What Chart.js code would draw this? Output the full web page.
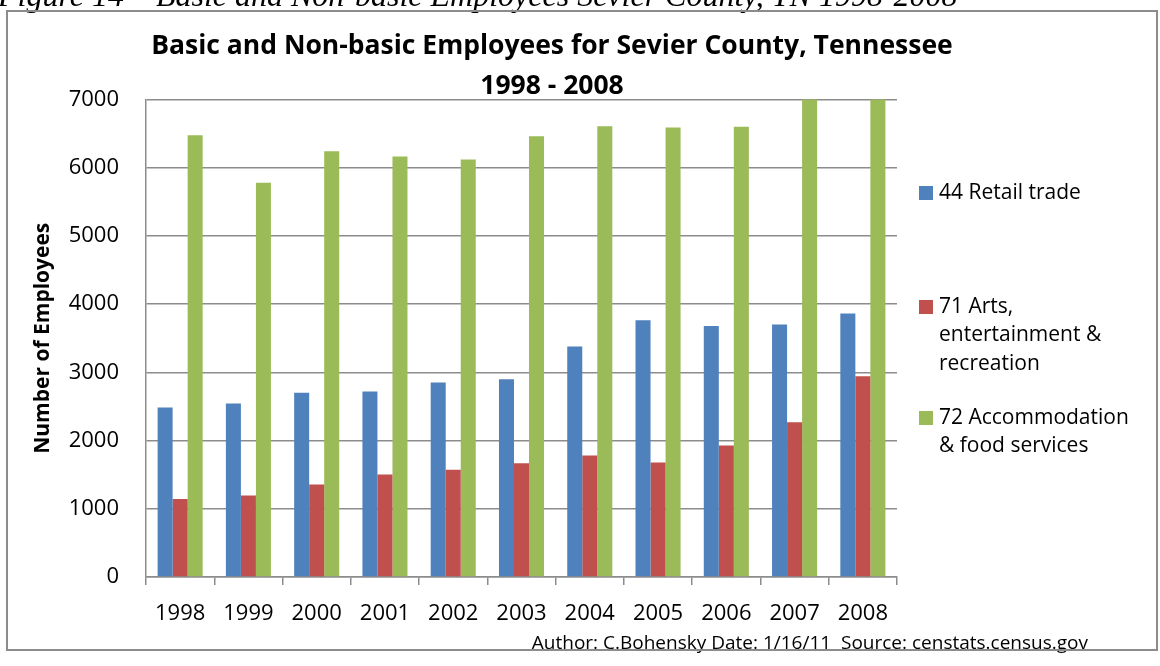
<!DOCTYPE html>
<html>
<head>
<meta charset="utf-8">
<title>Basic and Non-basic Employees for Sevier County</title>
<script src="https://cdn.jsdelivr.net/npm/chart.js@4.4.1/dist/chart.umd.min.js"></script>
<style>
  html, body { margin: 0; padding: 0; background: #fff; }
  canvas { display: block; }
</style>
</head>
<body>
<canvas id="grafico" width="1160" height="666"></canvas>
<script>
const anos = ["1998", "1999", "2000", "2001", "2002", "2003", "2004", "2005", "2006", "2007", "2008"];

const varejo = [2485, 2543, 2700, 2719, 2851, 2899, 3378, 3763, 3680, 3700, 3861];
const artes = [1142, 1196, 1357, 1504, 1571, 1669, 1782, 1679, 1928, 2270, 2943];
const hospedagem = [6477, 5780, 6243, 6165, 6121, 6462, 6609, 6590, 6600, 7050, 7150];

const nomesSeries = [
  "44 Retail trade",
  "71 Arts, entertainment & recreation",
  "72 Accommodation & food services"
];
// legenda quebrada em linhas como no original
const linhasLegenda = [
  ["44 Retail trade"],
  ["71 Arts,", "entertainment &", "recreation"],
  ["72 Accommodation", "& food services"]
];
const cores = ["#4F81BD", "#C0504D", "#9BBB59"];

const legenda = "Figure 14 – Basic and Non-basic Employees Sevier County, TN 1998-2008";
const autoria = "Author: C.Bohensky Date: 1/16/11  Source: censtats.census.gov";

const cinza = "#8c8c8c";

// fundo, moldura, legenda e textos extras
const extras = {
  id: "extras",
  beforeDraw(chart) {
    const c = chart.ctx;
    c.save();
    c.fillStyle = "#fff";
    c.fillRect(0, 0, chart.width, chart.height);
    c.restore();
  },
  afterDraw(chart) {
    const c = chart.ctx;
    c.save();
    // legenda da figura, cortada no topo
    c.fillStyle = "#000";
    c.font = "italic 32px 'Liberation Serif', serif";
    c.textAlign = "left";
    c.textBaseline = "alphabetic";
    c.fillText(legenda, -2, 6);

    // legenda das series
    const topos = [193, 307, 418];
    c.font = "21px 'Open Sans', sans-serif";
    c.textBaseline = "middle";
    linhasLegenda.forEach((linhas, i) => {
      c.fillStyle = cores[i];
      c.fillRect(919, topos[i] - 7, 14, 14);
      c.fillStyle = "#000";
      linhas.forEach((t, j) => c.fillText(t, 939, topos[i] + j * 28.5));
    });

    // autoria
    c.font = "19px 'Open Sans', sans-serif";
    c.textAlign = "right";
    c.fillText(autoria, 1088, 644);

    // moldura
    c.strokeStyle = cinza;
    c.lineWidth = 2;
    c.strokeRect(7, 11, 1150, 639);
    c.restore();
  }
};

new Chart(document.getElementById("grafico").getContext("2d"), {
  type: "bar",
  data: {
    labels: anos,
    datasets: [
      { label: nomesSeries[0], data: varejo, backgroundColor: cores[0] },
      { label: nomesSeries[1], data: artes, backgroundColor: cores[1] },
      { label: nomesSeries[2], data: hospedagem, backgroundColor: cores[2] }
    ]
  },
  options: {
    responsive: false,
    animation: false,
    layout: { padding: { left: 0, right: 56, top: 0, bottom: 0 } },
    datasets: {
      bar: { categoryPercentage: 0.66, barPercentage: 1.0, borderWidth: 0 }
    },
    scales: {
      x: {
        grid: {
          offset: true,
          drawOnChartArea: false,
          drawTicks: true,
          tickLength: 8,
          color: cinza,
          lineWidth: 1.5
        },
        border: { color: cinza, width: 1.5 },
        ticks: {
          color: "#000",
          padding: 16,
          maxRotation: 0,
          font: { family: "'Open Sans', sans-serif", size: 22 }
        },
        afterFit(scale) { scale.height = 89; }
      },
      y: {
        min: 0,
        max: 7000,
        ticks: {
          stepSize: 1000,
          color: "#000",
          padding: 27,
          font: { family: "'Open Sans', sans-serif", size: 22 },
          callback: (v) => String(v)
        },
        grid: { color: cinza, lineWidth: 1.5, drawTicks: false },
        border: { color: cinza, width: 1.5 },
        title: {
          display: true,
          text: "Number of Employees",
          color: "#000",
          padding: { top: 30, bottom: 0 },
          font: { family: "'Open Sans', sans-serif", size: 21, weight: "bold" }
        },
        afterFit(scale) { scale.width = 146; }
      },
      // eixo vazio que reserva o espaço da legenda à direita
      espaco: {
        type: "linear",
        position: "right",
        display: true,
        ticks: { display: false },
        grid: { display: false, drawOnChartArea: false },
        border: { display: false },
        afterFit(scale) { scale.width = 207; }
      }
    },
    plugins: {
      legend: { display: false },
      tooltip: { enabled: false },
      title: {
        display: true,
        text: ["Basic and Non-basic Employees for Sevier County, Tennessee", "1998 - 2008"],
        color: "#000",
        padding: { top: 27, bottom: -7 },
        font: { family: "'Open Sans', sans-serif", size: 26.5, weight: "bold", lineHeight: 1.5 }
      }
    }
  },
  plugins: [extras]
});
</script>
</body>
</html>
